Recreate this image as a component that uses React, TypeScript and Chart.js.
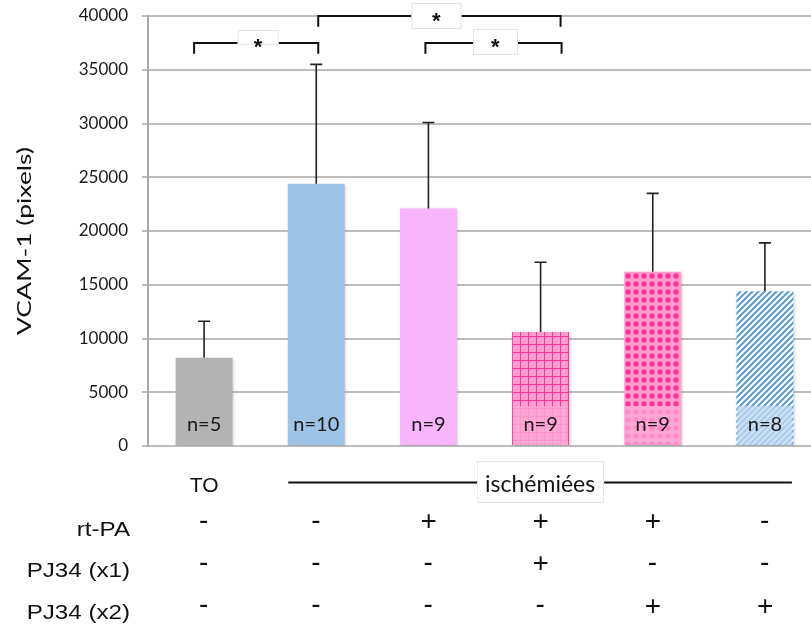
import React, { useEffect, useRef } from 'react';
import { Chart, registerables } from 'chart.js';

Chart.register(...registerables);

// ---------- data ----------
const categories = ['TO', 'Isch', 'Isch + rt-PA', 'Isch + rt-PA + PJ34 x1', 'Isch + rt-PA + PJ34 x2', 'Isch + PJ34 x2'];
const means = [8200, 24400, 22100, 10600, 16200, 14400];
const errorsUp = [3400, 11100, 8000, 6500, 7300, 4500];
const nLabels = ['n=5', 'n=10', 'n=9', 'n=9', 'n=9', 'n=8'];
const yMin = 0;
const yMax = 40000;
const yStep = 5000;
const yAxisTitle = 'VCAM-1 (pixels)';
const groupTO = 'TO';
const groupIsch = 'ischémiées';
const rowLabels = ['rt-PA', 'PJ34 (x1)', 'PJ34 (x2)'];
const rowRtPA = ['-', '-', '+', '+', '+', '-'];
const rowPJ34x1 = ['-', '-', '-', '+', '-', '-'];
const rowPJ34x2 = ['-', '-', '-', '-', '+', '+'];
const significance = [
  { from: 0, to: 1, level: 37500, drop: 1000, label: '*' },
  { from: 1, to: 3, level: 40000, drop: 1000, label: '*' },
  { from: 2, to: 3, level: 37500, drop: 1000, label: '*' },
];

// ---------- styling ----------
const bracketStyle = [
  { dx1: -10, dx2: 2, boxW: 41, boxTop: -13, boxBottom: 2, starDx: 2 },
  { dx1: 2, dx2: 20, boxW: 50, boxTop: -13, boxBottom: 13, starDx: -3 },
  { dx1: -3, dx2: 21, boxW: 45, boxTop: -14, boxBottom: 12, starDx: 2 },
];
const overlayColors = [null, null, null, 'rgba(255,168,214,0.82)', 'rgba(255,172,216,0.72)', 'rgba(192,216,242,0.78)'];

function makePattern(ctx: CanvasRenderingContext2D, kind: string): CanvasPattern | string {
  const c = document.createElement('canvas');
  const s = kind === 'stripes' ? 6 : 8;
  c.width = s;
  c.height = s;
  const g = c.getContext('2d')!;
  if (kind === 'grid') {
    g.fillStyle = '#ff9ccf';
    g.fillRect(0, 0, s, s);
    g.fillStyle = '#ff3399';
    g.fillRect(0, 0, s, 1);
    g.fillRect(0, 0, 1, s);
  } else if (kind === 'dots') {
    g.fillStyle = '#ff9fd0';
    g.fillRect(0, 0, s, s);
    g.fillStyle = '#ff3399';
    g.beginPath();
    g.arc(4, 4, 2.7, 0, Math.PI * 2);
    g.fill();
  } else {
    g.fillStyle = '#ffffff';
    g.fillRect(0, 0, s, s);
    g.strokeStyle = '#5b9bd5';
    g.lineWidth = 2;
    g.beginPath();
    g.moveTo(-1, s + 1);
    g.lineTo(s + 1, -1);
    g.moveTo(-1, 1);
    g.lineTo(1, -1);
    g.moveTo(s - 1, s + 1);
    g.lineTo(s + 1, s - 1);
    g.stroke();
  }
  return ctx.createPattern(c, 'repeat') || '#5b9bd5';
}

function inkText(ctx: CanvasRenderingContext2D, s: string, cx: number, cy: number, font: string, color: string) {
  ctx.font = font;
  ctx.fillStyle = color;
  ctx.textAlign = 'left';
  ctx.textBaseline = 'alphabetic';
  const m = ctx.measureText(s);
  const x = cx - (m.actualBoundingBoxRight - m.actualBoundingBoxLeft) / 2;
  const y = cy + (m.actualBoundingBoxAscent - m.actualBoundingBoxDescent) / 2;
  ctx.fillText(s, x, y);
}

const overlayPlugin = {
  id: 'overlayPlugin',
  beforeDatasetsDraw(chart: any) {
    const ctx = chart.ctx;
    ctx.save();
    ctx.shadowColor = 'rgba(0,0,0,0.2)';
    ctx.shadowBlur = 3;
    ctx.shadowOffsetX = 1;
    ctx.shadowOffsetY = 1;
  },
  afterDatasetsDraw(chart: any) {
    const ctx: CanvasRenderingContext2D = chart.ctx;
    ctx.restore();
    const x = chart.scales.x;
    const y = chart.scales.y;
    const meta = chart.getDatasetMeta(0);
    meta.data.forEach((bar: any, i: number) => {
      const p = bar.getProps(['x', 'y', 'base', 'width'], true);
      const left = p.x - p.width / 2;
      const oc = overlayColors[i];
      if (oc) {
        ctx.fillStyle = oc;
        ctx.fillRect(left + 1, p.base - 39, p.width - 2, 39);
      }
      const topY = y.getPixelForValue(means[i] + errorsUp[i]);
      ctx.strokeStyle = '#222222';
      ctx.lineWidth = 1.6;
      ctx.beginPath();
      ctx.moveTo(p.x, p.y);
      ctx.lineTo(p.x, topY);
      ctx.moveTo(p.x - 6, topY);
      ctx.lineTo(p.x + 6, topY);
      ctx.stroke();
      ctx.font = '20px Lato';
      ctx.fillStyle = '#1a1a1a';
      ctx.textAlign = 'center';
      ctx.textBaseline = 'alphabetic';
      ctx.fillText(nLabels[i], p.x, p.base - 14);
    });

    significance.forEach((s, k) => {
      const st = bracketStyle[k];
      const x1 = x.getPixelForValue(s.from) + st.dx1;
      const x2 = x.getPixelForValue(s.to) + st.dx2;
      const ly = y.getPixelForValue(s.level);
      const by = y.getPixelForValue(s.level - s.drop);
      ctx.strokeStyle = '#111111';
      ctx.lineWidth = 2;
      ctx.beginPath();
      ctx.moveTo(x1, by);
      ctx.lineTo(x1, ly);
      ctx.lineTo(x2, ly);
      ctx.lineTo(x2, by);
      ctx.stroke();
      const cx = (x1 + x2) / 2 + st.starDx;
      ctx.fillStyle = '#ffffff';
      ctx.fillRect(cx - st.boxW / 2, ly + st.boxTop, st.boxW, st.boxBottom - st.boxTop);
      ctx.strokeStyle = '#e2e2e2';
      ctx.lineWidth = 1;
      ctx.strokeRect(cx - st.boxW / 2 + 0.5, ly + st.boxTop + 0.5, st.boxW - 1, st.boxBottom - st.boxTop - 1);
      inkText(ctx, s.label, cx, ly + 1, 'bold 22px "Liberation Sans"', '#111111');
    });
  },
  afterDraw(chart: any) {
    const ctx: CanvasRenderingContext2D = chart.ctx;
    const x = chart.scales.x;
    const col = (i: number) => x.getPixelForValue(i);

    ctx.save();
    ctx.font = '20px Lato';
    const tw = ctx.measureText(yAxisTitle).width;
    ctx.translate(25, 241);
    ctx.rotate(-Math.PI / 2);
    ctx.scale(188 / tw, 1);
    ctx.fillStyle = '#111111';
    ctx.textAlign = 'center';
    ctx.textBaseline = 'middle';
    ctx.fillText(yAxisTitle, 0, 0);
    ctx.restore();

    ctx.save();
    ctx.fillStyle = '#111111';
    ctx.font = '21px "Liberation Sans"';
    ctx.textAlign = 'center';
    ctx.textBaseline = 'alphabetic';
    ctx.fillText(groupTO, col(0), 492);

    const lx1 = col(1) - 28;
    const lx2 = col(5) + 27;
    const lineY = 482.5;
    ctx.strokeStyle = '#111111';
    ctx.lineWidth = 2;
    ctx.beginPath();
    ctx.moveTo(lx1, lineY);
    ctx.lineTo(lx2, lineY);
    ctx.stroke();
    const mid = (lx1 + lx2) / 2;
    ctx.fillStyle = '#ffffff';
    ctx.fillRect(mid - 63, 461, 127, 42);
    ctx.strokeStyle = '#e6e6e6';
    ctx.lineWidth = 1;
    ctx.strokeRect(mid - 63 + 0.5, 461.5, 126, 41);
    ctx.font = '23px Lato';
    ctx.fillStyle = '#111111';
    ctx.textAlign = 'center';
    ctx.fillText(groupIsch, mid, 491.5);

    const labelBaselines = [536, 577, 619];
    rowLabels.forEach((lab, r) => {
      ctx.save();
      ctx.font = '21px "Liberation Sans"';
      ctx.fillStyle = '#111111';
      ctx.textAlign = 'right';
      ctx.textBaseline = 'alphabetic';
      ctx.translate(130, labelBaselines[r]);
      ctx.scale(1.15, 1);
      ctx.fillText(lab, 0, 0);
      ctx.restore();
    });

    const symCenters = [521, 563, 605.5];
    [rowRtPA, rowPJ34x1, rowPJ34x2].forEach((row, r) => {
      row.forEach((s, i) => {
        inkText(ctx, s, col(i), symCenters[r], '28px "Liberation Sans"', '#111111');
      });
    });
    ctx.restore();
  },
};

export default function App() {
  const ref = useRef<HTMLCanvasElement | null>(null);
  useEffect(() => {
    const canvas = ref.current!;
    const ctx = canvas.getContext('2d')!;
    const colors: any[] = [
      '#b3b3b3',
      '#9dc3e6',
      '#f8b4fd',
      makePattern(ctx, 'grid'),
      makePattern(ctx, 'dots'),
      makePattern(ctx, 'stripes'),
    ];
    const chart = new Chart(canvas, {
      type: 'bar',
      data: {
        labels: categories,
        datasets: [
          {
            data: means,
            backgroundColor: colors,
            borderWidth: 0,
            barPercentage: 0.508,
            categoryPercentage: 1,
          },
        ],
      },
      options: {
        responsive: false,
        animation: false,
        devicePixelRatio: 1,
        layout: { padding: { left: 0, right: 9, top: 16, bottom: 184 } },
        plugins: { legend: { display: false }, tooltip: { enabled: false }, title: { display: false } },
        scales: {
          x: { type: 'category', display: false, offset: true },
          y: {
            min: yMin,
            max: yMax,
            ticks: {
              stepSize: yStep,
              padding: 14,
              color: '#1a1a1a',
              font: { family: 'Lato', size: 17 },
              callback: (v: any) => String(v),
            },
            grid: { color: '#bdbdbd', lineWidth: 2, tickLength: 6, drawTicks: true },
            border: { color: '#a8a8a8', width: 2 },
            afterFit: (scale: any) => {
              scale.width = 148;
              scale.paddingTop = 0;
              scale.paddingBottom = 0;
            },
          },
        },
      },
      plugins: [overlayPlugin],
    });
    return () => chart.destroy();
  }, []);

  return (
    <div style={{ position: 'fixed', left: 0, top: 0, width: 811, height: 630, overflow: 'hidden', background: '#ffffff' }}>
      <canvas ref={ref} width={830} height={630} style={{ width: 830, height: 630, display: 'block' }} />
    </div>
  );
}
